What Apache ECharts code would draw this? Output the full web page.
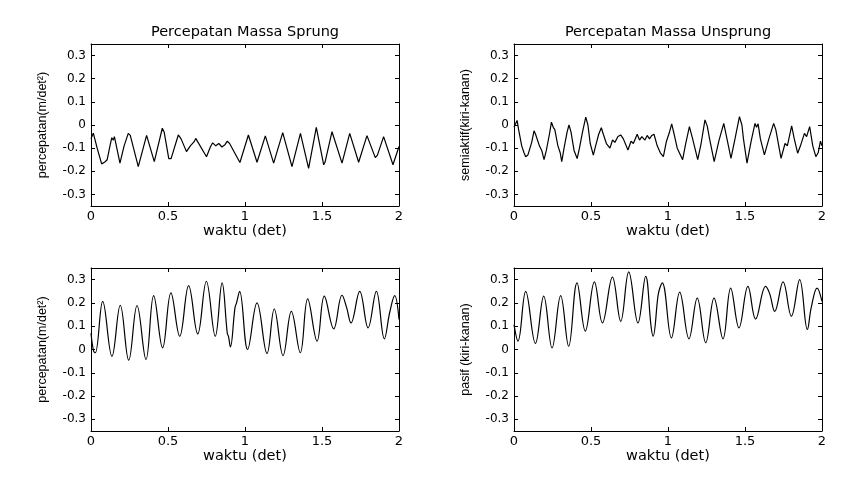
<!DOCTYPE html>
<html>
<head>
<meta charset="utf-8">
<script src="https://cdn.jsdelivr.net/npm/echarts@6/dist/echarts.min.js"></script>
<style>
  html, body { margin: 0; padding: 0; background: #fff; }
  #chart { width: 849px; height: 482px; }
</style>
</head>
<body>
<div id="chart"></div>
<script>
// time (det) and value pairs, one pair of arrays per panel
const tSprung = [0, 0.015, 0.04, 0.069, 0.09, 0.105, 0.125, 0.135, 0.145, 0.152, 0.188, 0.215, 0.242, 0.255, 0.307, 0.361, 0.411, 0.463, 0.475, 0.505, 0.52, 0.567, 0.585, 0.62, 0.645, 0.67, 0.68, 0.69, 0.75, 0.775, 0.79, 0.81, 0.83, 0.85, 0.87, 0.885, 0.9, 0.967, 1.022, 1.078, 1.132, 1.186, 1.245, 1.305, 1.36, 1.413, 1.463, 1.511, 1.52, 1.565, 1.63, 1.68, 1.738, 1.75, 1.792, 1.846, 1.86, 1.9, 1.961, 2.0];
const vSprung = [-0.06, -0.035, -0.1, -0.168, -0.16, -0.15, -0.085, -0.055, -0.065, -0.05, -0.165, -0.09, -0.036, -0.045, -0.18, -0.045, -0.158, -0.014, -0.03, -0.145, -0.145, -0.043, -0.06, -0.115, -0.09, -0.072, -0.058, -0.065, -0.137, -0.095, -0.077, -0.09, -0.08, -0.095, -0.085, -0.07, -0.08, -0.162, -0.043, -0.161, -0.047, -0.165, -0.033, -0.18, -0.036, -0.187, -0.01, -0.172, -0.16, -0.029, -0.165, -0.036, -0.161, -0.155, -0.046, -0.141, -0.13, -0.05, -0.172, -0.093];

const tUnsprung = [0, 0.02, 0.03, 0.05, 0.065, 0.076, 0.09, 0.1, 0.115, 0.13, 0.14, 0.15, 0.165, 0.18, 0.195, 0.21, 0.23, 0.243, 0.255, 0.265, 0.285, 0.3, 0.31, 0.325, 0.345, 0.357, 0.37, 0.39, 0.41, 0.425, 0.445, 0.466, 0.48, 0.495, 0.515, 0.53, 0.55, 0.567, 0.58, 0.6, 0.623, 0.64, 0.655, 0.675, 0.693, 0.71, 0.74, 0.76, 0.775, 0.8, 0.815, 0.83, 0.85, 0.865, 0.88, 0.895, 0.909, 0.93, 0.95, 0.97, 0.99, 1.01, 1.024, 1.04, 1.06, 1.095, 1.115, 1.139, 1.16, 1.193, 1.215, 1.24, 1.255, 1.27, 1.3, 1.33, 1.362, 1.38, 1.409, 1.435, 1.464, 1.48, 1.49, 1.513, 1.54, 1.565, 1.575, 1.585, 1.6, 1.626, 1.655, 1.686, 1.7, 1.734, 1.76, 1.775, 1.803, 1.82, 1.842, 1.86, 1.886, 1.9, 1.92, 1.94, 1.96, 1.975, 1.99, 2.0];
const vUnsprung = [-0.01, 0.02, -0.02, -0.09, -0.12, -0.137, -0.13, -0.135, -0.075, -0.025, -0.04, -0.035, -0.09, -0.11, -0.15, -0.11, -0.04, 0.012, -0.01, -0.02, -0.09, -0.12, -0.158, -0.1, -0.03, 0.0, -0.03, -0.11, -0.145, -0.1, -0.03, 0.034, 0.0, -0.08, -0.13, -0.09, -0.04, -0.012, -0.04, -0.08, -0.1, -0.065, -0.075, -0.05, -0.043, -0.06, -0.108, -0.07, -0.08, -0.04, -0.065, -0.05, -0.065, -0.045, -0.06, -0.045, -0.04, -0.09, -0.12, -0.137, -0.07, -0.03, 0.005, -0.04, -0.1, -0.15, -0.08, -0.007, -0.06, -0.15, -0.08, 0.022, -0.005, -0.06, -0.158, -0.07, 0.007, -0.05, -0.144, -0.06, 0.036, 0.0, -0.06, -0.165, -0.07, 0.007, -0.01, 0.005, -0.06, -0.129, -0.06, 0.007, -0.02, -0.144, -0.08, -0.09, -0.004, -0.06, -0.122, -0.09, -0.036, -0.05, -0.007, -0.09, -0.137, -0.12, -0.07, -0.09];

const tBawahKiri = [0, 0.017, 0.028, 0.076, 0.136, 0.19, 0.245, 0.299, 0.357, 0.407, 0.465, 0.519, 0.576, 0.634, 0.693, 0.749, 0.807, 0.851, 0.885, 0.893, 0.905, 0.935, 0.945, 0.965, 1.017, 1.078, 1.143, 1.19, 1.247, 1.301, 1.359, 1.407, 1.468, 1.515, 1.576, 1.63, 1.66, 1.688, 1.745, 1.799, 1.853, 1.905, 1.94, 1.972, 2.0];
const vBawahKiri = [0.07, -0.007, -0.014, 0.207, -0.029, 0.19, -0.046, 0.189, -0.043, 0.231, 0.007, 0.243, 0.057, 0.274, 0.067, 0.293, 0.057, 0.286, 0.07, 0.055, 0.011, 0.18, 0.2, 0.25, 0.0, 0.2, -0.017, 0.174, -0.026, 0.164, -0.014, 0.217, 0.036, 0.229, 0.089, 0.233, 0.18, 0.114, 0.25, 0.093, 0.25, 0.046, 0.16, 0.231, 0.129];

const tBawahKanan = [0, 0.026, 0.076, 0.139, 0.193, 0.247, 0.303, 0.355, 0.409, 0.463, 0.522, 0.574, 0.639, 0.693, 0.745, 0.805, 0.855, 0.89, 0.903, 0.935, 0.945, 0.963, 1.022, 1.076, 1.136, 1.19, 1.245, 1.299, 1.357, 1.407, 1.461, 1.519, 1.569, 1.634, 1.66, 1.693, 1.747, 1.801, 1.855, 1.905, 1.93, 1.968, 2.0];
const vBawahKanan = [0.107, 0.036, 0.25, 0.026, 0.229, 0.007, 0.231, 0.014, 0.286, 0.079, 0.29, 0.114, 0.311, 0.121, 0.333, 0.114, 0.314, 0.1, 0.057, 0.23, 0.26, 0.286, 0.05, 0.246, 0.046, 0.221, 0.029, 0.221, 0.046, 0.264, 0.093, 0.271, 0.131, 0.271, 0.24, 0.164, 0.29, 0.143, 0.3, 0.086, 0.18, 0.264, 0.207];

const titles = ["Percepatan Massa Sprung", "Percepatan Massa Unsprung"];
const yNames = ["percepatan(m/det²)", "semiaktif(kiri-kanan)", "percepatan(m/det²)", "pasif (kiri-kanan)"];
const xName = "waktu (det)";

const font = "DejaVu Sans";
const panels = [
  { left: 91, top: 44, height: 162, t: tSprung, v: vSprung, smooth: false },
  { left: 514, top: 44, height: 162, t: tUnsprung, v: vUnsprung, smooth: false },
  { left: 91, top: 268, height: 163, t: tBawahKiri, v: vBawahKiri, smooth: 0.4 },
  { left: 514, top: 268, height: 163, t: tBawahKanan, v: vBawahKanan, smooth: 0.4 },
];

function zip(t, v) {
  return t.map((x, i) => [x, v[i]]);
}

const grid = [];
const xAxis = [];
const yAxis = [];
const series = [];

panels.forEach((p, i) => {
  grid.push({ left: p.left, top: p.top, width: 308, height: p.height });

  const tick = { inside: true, length: 4, lineStyle: { color: "#000" } };
  const line = { onZero: false, lineStyle: { color: "#000", width: 1 } };

  xAxis.push({
    type: "value", gridIndex: i, min: 0, max: 2, interval: 0.5, position: "bottom",
    axisLine: line, axisTick: tick, splitLine: { show: false },
    axisLabel: { color: "#000", fontFamily: font, fontSize: 13, margin: 4 },
    name: xName, nameLocation: "middle", nameGap: 17,
    nameTextStyle: { color: "#000", fontFamily: font, fontSize: 14.5 },
  });
  yAxis.push({
    type: "value", gridIndex: i, min: -0.35, max: 0.35, splitNumber: 7, position: "left",
    axisLine: line, axisTick: tick, splitLine: { show: false },
    axisLabel: { color: "#000", fontFamily: font, fontSize: 12, margin: 5, showMinLabel: false, showMaxLabel: false },
    name: yNames[i], nameLocation: "middle", nameGap: 42,
    nameTextStyle: { color: "#000", fontFamily: "Liberation Sans", fontSize: 12.5 },
  });

  series.push({
    type: "line", xAxisIndex: i, yAxisIndex: i, data: zip(p.t, p.v),
    showSymbol: false, smooth: p.smooth, lineStyle: { color: "#000", width: 1.2 },
  });
});

// mirrored axes on top and right give the closed box with inward ticks
panels.forEach((p, i) => {
  xAxis.push({
    type: "value", gridIndex: i, min: 0, max: 2, interval: 0.5, position: "top",
    axisLine: { onZero: false, lineStyle: { color: "#000", width: 1 } },
    axisTick: { inside: true, length: 4, lineStyle: { color: "#000" } },
    axisLabel: { show: false }, splitLine: { show: false },
  });
  yAxis.push({
    type: "value", gridIndex: i, min: -0.35, max: 0.35, splitNumber: 7, position: "right",
    axisLine: { onZero: false, lineStyle: { color: "#000", width: 1 } },
    axisTick: { inside: true, length: 4, lineStyle: { color: "#000" } },
    axisLabel: { show: false }, splitLine: { show: false },
  });
});

const chart = echarts.init(document.getElementById("chart"));
chart.setOption({
  animation: false,
  backgroundColor: "#fff",
  graphic: [
    { type: "text", x: 245, y: 32, style: { text: titles[0], fill: "#000", font: "14.5px " + font, textAlign: "center", textVerticalAlign: "middle" } },
    { type: "text", x: 668, y: 32, style: { text: titles[1], fill: "#000", font: "14.5px " + font, textAlign: "center", textVerticalAlign: "middle" } },
  ],
  grid,
  xAxis,
  yAxis,
  series,
});
</script>
</body>
</html>
